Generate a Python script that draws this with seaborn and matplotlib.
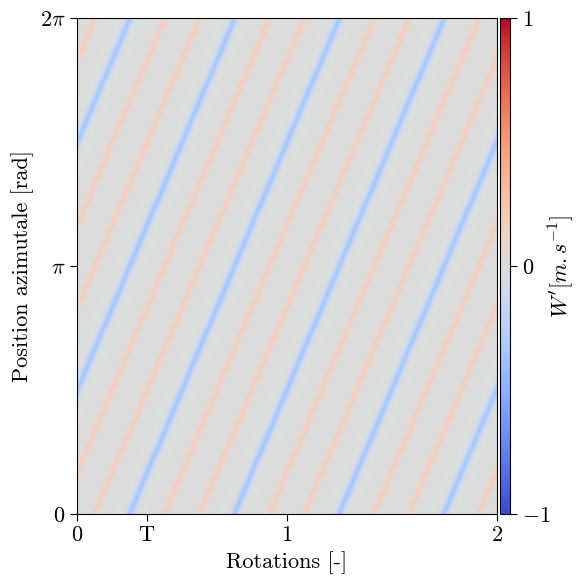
import matplotlib
matplotlib.use("Agg")
import matplotlib.pyplot as plt
import seaborn as sns
import numpy as np
import pandas as pd

# intercepts (rotations) of the wake stripes at azimuth 0
blue_x0 = [-0.75, -0.25, 0.25, 0.75, 1.25, 1.75]
red_x0 = [-0.917, -0.583, -0.417, -0.083, 0.083, 0.417, 0.583, 0.917,
          1.083, 1.417, 1.583, 1.917]
blue_amp = -0.33
red_amp = 0.15
stripe_width = 0.014     # rotations
drift = 1.0              # rotations per 2*pi of azimuth

x_ticks = [0, 1/3, 1, 2]
x_ticklabels = ["$0$", r"$\mathrm{T}$", "$1$", "$2$"]
y_ticks = [0, np.pi, 2 * np.pi]
y_ticklabels = ["$0$", r"$\pi$", r"$2\pi$"]
cbar_ticks = [-1, 0, 1]

plt.rcParams["font.family"] = "cmr10"
plt.rcParams["mathtext.fontset"] = "cm"
plt.rcParams["axes.unicode_minus"] = False

# grille
nx, ny = 420, 500
rot = np.linspace(0, 2, nx)
theta = np.linspace(0, 2 * np.pi, ny)
R, TH = np.meshgrid(rot, theta)
shift = TH / (2 * np.pi) * drift
W = np.zeros_like(R)
for x0 in blue_x0:
    W += blue_amp * np.exp(-(R - (x0 + shift)) ** 2 / (2 * stripe_width ** 2))
for x0 in red_x0:
    W += red_amp * np.exp(-(R - (x0 + shift)) ** 2 / (2 * stripe_width ** 2))

df = pd.DataFrame(W[::-1], index=theta[::-1], columns=rot)

fig = plt.figure(figsize=(5.76, 5.77), dpi=100)
ax = fig.add_axes([77 / 576, 63 / 577, 420 / 576, 496 / 577])
cax = fig.add_axes([500 / 576, 63 / 577, 10 / 576, 496 / 577])

sns.heatmap(df, ax=ax, cbar_ax=cax, cmap="coolwarm", vmin=-1, vmax=1,
            xticklabels=False, yticklabels=False, rasterized=True)

for s in ax.spines.values():
    s.set_visible(True)
    s.set_color("black")
    s.set_linewidth(0.8)

ax.set_xticks([v / 2 * nx for v in x_ticks])
ax.set_xticklabels(x_ticklabels, fontsize=16, rotation=0)
ax.set_yticks([ny * (1 - v / (2 * np.pi)) for v in y_ticks])
ax.set_yticklabels(y_ticklabels, fontsize=16, rotation=0)
ax.tick_params(direction="out", length=5, width=0.8)
ax.set_xlabel("Rotations [-]", fontsize=16)
ax.set_ylabel("Position azimutale [rad]", fontsize=16)

cbar = ax.collections[0].colorbar
cbar.set_ticks(cbar_ticks)
cbar.set_ticklabels(["$-1$", "$0$", "$1$"])
cbar.ax.tick_params(labelsize=16, length=5, width=0.8)
cbar.outline.set_visible(True)
cbar.outline.set_edgecolor("black")
cbar.outline.set_linewidth(0.8)
cbar.set_label(r"$W'[m.s^{-1}]$", fontsize=16, labelpad=-3)

fig.savefig("out.png", dpi=100)
